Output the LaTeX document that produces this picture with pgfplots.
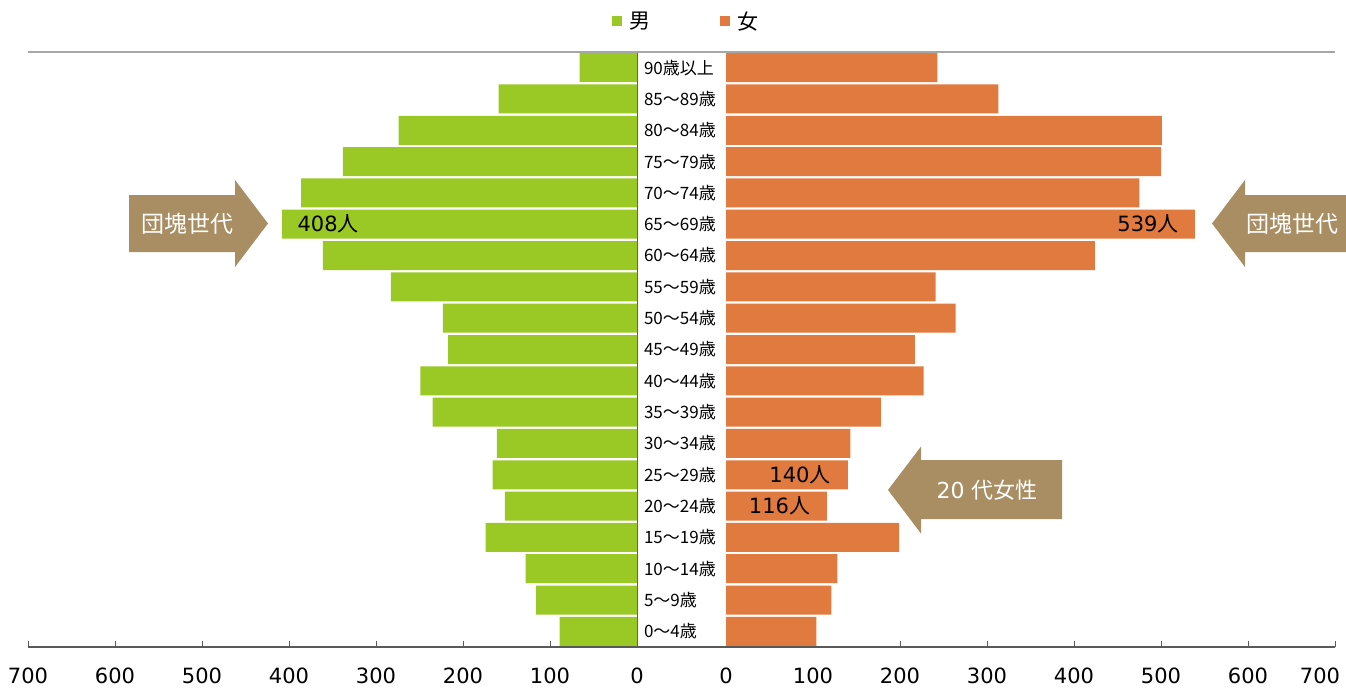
\documentclass[border=0pt]{standalone}
\usepackage{fontspec}
\usepackage{pgfplots}
\usepackage{pgfplotstable}
\pgfplotsset{compat=1.18}
\setmainfont{DejaVu Sans}
\newfontfamily\jp{Noto Sans CJK JP}
\definecolor{mgreen}{HTML}{9AC824}
\definecolor{forange}{HTML}{E07A3E}
\definecolor{arrowc}{HTML}{A98D63}
\definecolor{axisgray}{HTML}{595959}
\definecolor{topgray}{HTML}{A6A6A6}

\pgfplotstableread{
idx m
0 89
1 116
2 128
3 174
4 152
5 166
6 161
7 235
8 249
9 217
10 223
11 283
12 361
13 408
14 386
15 338
16 274
17 159
18 66
}\male
\pgfplotstableread{
idx f
0 104
1 121
2 128
3 199
4 116
5 140
6 143
7 178
8 227
9 217
10 264
11 241
12 424
13 539
14 475
15 500
16 501
17 313
18 243
}\female

\begin{document}
\begin{tikzpicture}[x=1pt,y=1pt]
\path[use as bounding box] (0pt,0pt) rectangle (1346pt,-688pt);

\begin{axis}[
  at={(28pt,-647pt)}, anchor=south west,
  scale only axis, width=609pt, height=595pt,
  xmin=-700, xmax=0, ymin=-0.5, ymax=18.5,
  xbar, bar width=29pt,
  axis x line*=bottom, axis y line*=right,
  x axis line style={axisgray, line width=1.5pt},
  y axis line style={axisgray, line width=1pt},
  xtick={-700,-600,-500,-400,-300,-200,-100,0},
  xticklabels={700,600,500,400,300,200,100,0},
  tick align=inside,
  major tick length=6pt,
  x tick style={axisgray, line width=1pt},
  xticklabel style={font=\fontsize{21}{21}\selectfont, yshift=-17pt},
  ytick={0,...,18},
  yticklabels={0{\jp ～}4{\jp 歳},5{\jp ～}9{\jp 歳},10{\jp ～}14{\jp 歳},15{\jp ～}19{\jp 歳},20{\jp ～}24{\jp 歳},25{\jp ～}29{\jp 歳},30{\jp ～}34{\jp 歳},35{\jp ～}39{\jp 歳},40{\jp ～}44{\jp 歳},45{\jp ～}49{\jp 歳},50{\jp ～}54{\jp 歳},55{\jp ～}59{\jp 歳},60{\jp ～}64{\jp 歳},65{\jp ～}69{\jp 歳},70{\jp ～}74{\jp 歳},75{\jp ～}79{\jp 歳},80{\jp ～}84{\jp 歳},85{\jp ～}89{\jp 歳},90{\jp 歳以上}},
  y tick style={draw=none},
  yticklabel style={font=\jp\fontsize{17}{17}\selectfont, anchor=west, xshift=3.5pt},
  /pgf/number format/assume math mode=true,
  legend style={at={(1.081,1.052)}, anchor=center, draw=none, fill=none,
    font=\jp\fontsize{21}{21}\selectfont, legend columns=2,
    /tikz/every even column/.append style={column sep=67pt}},
  legend image code/.code={\fill[#1] (0pt,-5pt) rectangle (10pt,5pt); \path (16pt,0pt);},
  clip=false,
]
\addplot[fill=mgreen, draw=none] table[x expr=-\thisrow{m}, y=idx] {\male};
\addlegendentry{男}
\addlegendimage{fill=forange, draw=none}
\addlegendentry{女}
\node[font=\fontsize{21}{21}\selectfont] at (axis cs:-355,13) {408{\jp 人}};
\end{axis}

\begin{axis}[
  at={(726pt,-647pt)}, anchor=south west,
  scale only axis, width=609pt, height=595pt,
  xmin=0, xmax=700, ymin=-0.5, ymax=18.5,
  xbar, bar width=29pt,
  axis x line*=bottom, hide y axis,
  x axis line style={axisgray, line width=1.5pt},
  xtick={0,100,200,300,400,500,600,700},
  xticklabels={0,100,200,300,400,500,600,{700\rule{30pt}{0pt}}},
  tick align=inside,
  major tick length=6pt,
  x tick style={axisgray, line width=1pt},
  xticklabel style={font=\fontsize{21}{21}\selectfont, yshift=-17pt},
  /pgf/number format/assume math mode=true,
  clip=false,
]
\addplot[fill=forange, draw=none] table[x=f, y=idx] {\female};
\node[font=\fontsize{21}{21}\selectfont] at (axis cs:485,13) {539{\jp 人}};
\node[font=\fontsize{21}{21}\selectfont] at (axis cs:85,5) {140{\jp 人}};
\node[font=\fontsize{21}{21}\selectfont] at (axis cs:61.5,4) {116{\jp 人}};
\end{axis}

% top and connecting lines
\draw[topgray, line width=1.5pt] (28pt,-52pt) -- (1335pt,-52pt);
\draw[axisgray, line width=1.5pt] (637pt,-647pt) -- (726pt,-647pt);

% arrows
\fill[arrowc] (129pt,-195pt) -- (235pt,-195pt) -- (235pt,-180pt) -- (268pt,-223.5pt) -- (235pt,-267pt) -- (235pt,-252pt) -- (129pt,-252pt) -- cycle;
\node[white, font=\jp\fontsize{23}{23}\selectfont] at (187pt,-224pt) {団塊世代};
\fill[arrowc] (1346pt,-195pt) -- (1245pt,-195pt) -- (1245pt,-180pt) -- (1212pt,-223.5pt) -- (1245pt,-267pt) -- (1245pt,-252pt) -- (1346pt,-252pt) -- cycle;
\node[white, font=\jp\fontsize{23}{23}\selectfont] at (1292pt,-224pt) {団塊世代};
\fill[arrowc] (1062pt,-460pt) -- (921pt,-460pt) -- (921pt,-446.5pt) -- (888pt,-490pt) -- (921pt,-533.5pt) -- (921pt,-519pt) -- (1062pt,-519pt) -- cycle;
\node[white, font=\fontsize{22}{22}\selectfont] at (987pt,-490pt) {20 {\jp 代女性}};
\end{tikzpicture}
\end{document}
